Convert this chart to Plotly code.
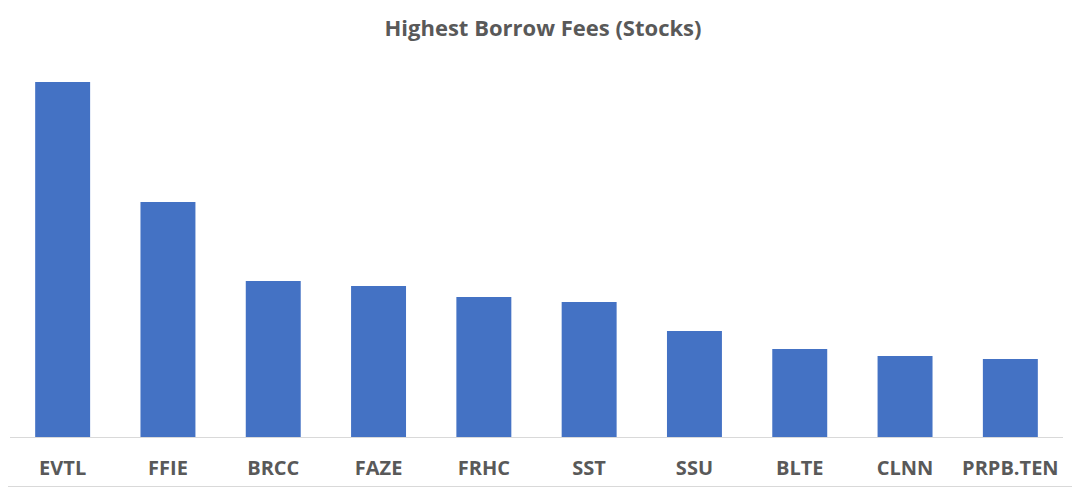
import plotly.graph_objects as go

tickers = ["EVTL", "FFIE", "BRCC", "FAZE", "FRHC", "SST", "SSU", "BLTE", "CLNN", "PRPB.TEN"]
fees = [355, 235, 156, 151, 140, 135, 106, 88, 81, 78]

# page body has an 8px margin, so the figure is sized to fit the window
W, H = 1072, 481
ml, mr, mt, mb = 2, 17, 52, 52
pw, ph = W - ml - mr, H - mt - mb

fig = go.Figure(go.Bar(x=tickers, y=fees, marker=dict(color="#4472C4", line=dict(width=0)),
                       hoverinfo="x+y"))
fig.update_layout(
    width=W, height=H,
    margin=dict(l=ml, r=mr, t=mt, b=mb),
    paper_bgcolor="white", plot_bgcolor="white",
    bargap=0.478,
    showlegend=False,
    title=dict(text="Highest Borrow Fees (Stocks)", x=(543 - 8) / W,
               xanchor="center", y=1 - 20 / H, yanchor="middle",
               font=dict(family="Open Sans", size=22, color="#595959", weight="bold")),
    xaxis=dict(showline=True, linecolor="#D9D9D9", linewidth=1, ticks="", showgrid=False,
               tickfont=dict(family="Open Sans", size=20, color="#595959", weight="bold"),
               ticklabelstandoff=13),
    yaxis=dict(visible=False, range=[0, ph], showgrid=False, zeroline=False),
    shapes=[
        dict(type="line", xref="paper", yref="paper",
             x0=(W - 3 - ml) / pw, x1=(W - 3 - ml) / pw,
             y0=-(mb - 0.5) / ph, y1=(ph + mt) / ph,
             line=dict(color="#D9D9D9", width=1)),
        dict(type="line", xref="paper", yref="paper",
             x0=-ml / pw, x1=(W - 3 - ml) / pw,
             y0=-(mb - 2.5) / ph, y1=-(mb - 2.5) / ph,
             line=dict(color="#D9D9D9", width=1)),
    ],
)
fig.write_html("out.html")
